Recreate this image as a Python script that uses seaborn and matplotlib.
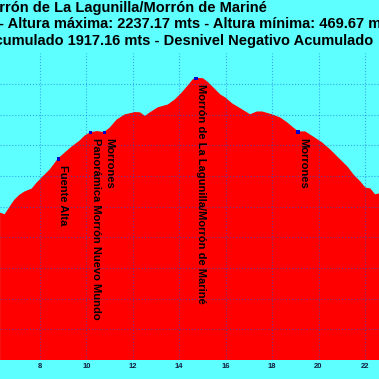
import matplotlib
matplotlib.use("Agg")
import matplotlib.pyplot as plt
import pandas as pd
import seaborn as sns

# ---- data ----
distance_km = [6.28, 6.49, 6.71, 6.92, 7.14, 7.35, 7.66, 7.87, 8.13, 8.43, 8.79, 9.08,
               9.38, 9.72, 9.94, 10.18, 10.46, 10.77, 11.02, 11.32, 11.66, 12.09, 12.31,
               12.52, 12.74, 13.08, 13.52, 13.82, 14.12, 14.38, 14.59, 14.72, 15.02,
               15.24, 15.54, 15.76, 15.97, 16.27, 16.70, 17.05, 17.35, 17.57, 18.00,
               18.34, 18.64, 18.90, 19.12, 19.42, 19.76, 20.15, 20.49, 20.84, 21.23,
               21.49, 21.79, 22.00, 22.22, 22.43, 22.61]
elevation_m = [1357, 1346, 1398, 1444, 1476, 1496, 1515, 1554, 1594, 1639, 1711, 1750,
               1789, 1828, 1861, 1882, 1889, 1882, 1913, 1965, 1998, 2013, 2011,
               1987, 2011, 2044, 2063, 2096, 2141, 2187, 2226, 2237, 2233,
               2207, 2161, 2128, 2109, 2070, 2031, 1998, 2017, 2017, 1998,
               1978, 1946, 1913, 1887, 1887, 1854, 1815, 1770, 1717, 1659,
               1607, 1561, 1522, 1515, 1476, 1483]

waypoint_names = ["Fuente Alta", "Panorámica Morrón Nuevo Mundo", "Morrones",
                  "Morrón de La Lagunilla/Morrón de Mariné", "Morrones"]
waypoint_km = [8.79, 10.18, 10.77, 14.72, 19.12]
waypoint_elev = [1711, 1882, 1882, 2237, 1887]

x_ticks = [8, 10, 12, 14, 16, 18, 20, 22]
y_ticks = [400, 600, 800, 1000, 1200, 1400, 1600, 1800, 2000, 2200]

title_line1 = "Morrón de La Lagunilla/Morrón de Mariné"
title_line2 = "- Altura máxima: 2237.17 mts - Altura mínima: 469.67 mts"
title_line3 = "Desnivel Positivo Acumulado 1917.16 mts - Desnivel Negativo Acumulado"

# ---- style ----
sns.set_style("white")
plt.rcParams['font.family'] = ['Liberation Sans', 'DejaVu Sans']
BG = '#5EFFFF'
W = H = 379

fig = plt.figure(figsize=(3.79, 3.79), dpi=100, facecolor=BG)
ax = fig.add_axes([0, (H - 360) / H, 1, (360 - 53.3) / H])
ax.set_facecolor(BG)

df = pd.DataFrame({'km': distance_km, 'elev': elevation_m})
ax.fill_between(df['km'], df['elev'], 400, color='#FF0000', lw=0, zorder=1)
sns.lineplot(data=df, x='km', y='elev', ax=ax, color='#FF0000', lw=0.8, zorder=1.5)

wp = pd.DataFrame({'km': waypoint_km, 'elev': waypoint_elev, 'name': waypoint_names})
sns.scatterplot(data=wp, x='km', y='elev', ax=ax, marker='s', s=6, color='#0000CC',
                edgecolor='none', zorder=4)
for _, r in wp.iterrows():
    ax.annotate(r['name'], (r['km'], r['elev']), xytext=(0, -4), textcoords='offset points',
                rotation=-90, ha='left', va='top', fontsize=8, fontweight='bold',
                color='black', zorder=5)

ax.set_xlim(6.277, 22.606)
ax.set_ylim(400, 2400)
ax.set_xticks(x_ticks)
ax.set_yticks(y_ticks)
ax.grid(True, color='#1060E0', alpha=0.55, ls=':', lw=0.8)
ax.set_axisbelow(False)
for s in ax.spines.values():
    s.set_visible(False)
ax.tick_params(axis='x', length=0, pad=2, labelsize=5.5, labelcolor='#102040')
ax.tick_params(axis='y', left=False, labelleft=False)
for lab in ax.get_xticklabels():
    lab.set_fontweight('bold')
ax.set_xlabel('')
ax.set_ylabel('')

fig.text(267 / W, 1 - 8.3 / H, title_line1, ha='right', va='center', fontsize=10.5,
         fontweight='bold', color='black')
fig.text(-1 / W, 1 - 24.3 / H, title_line2, ha='left', va='center', fontsize=10.5,
         fontweight='bold', color='black')
fig.text(373 / W, 1 - 41 / H, title_line3, ha='right', va='center', fontsize=10.5,
         fontweight='bold', color='black')

fig.savefig('out.png', dpi=100, facecolor=BG)
